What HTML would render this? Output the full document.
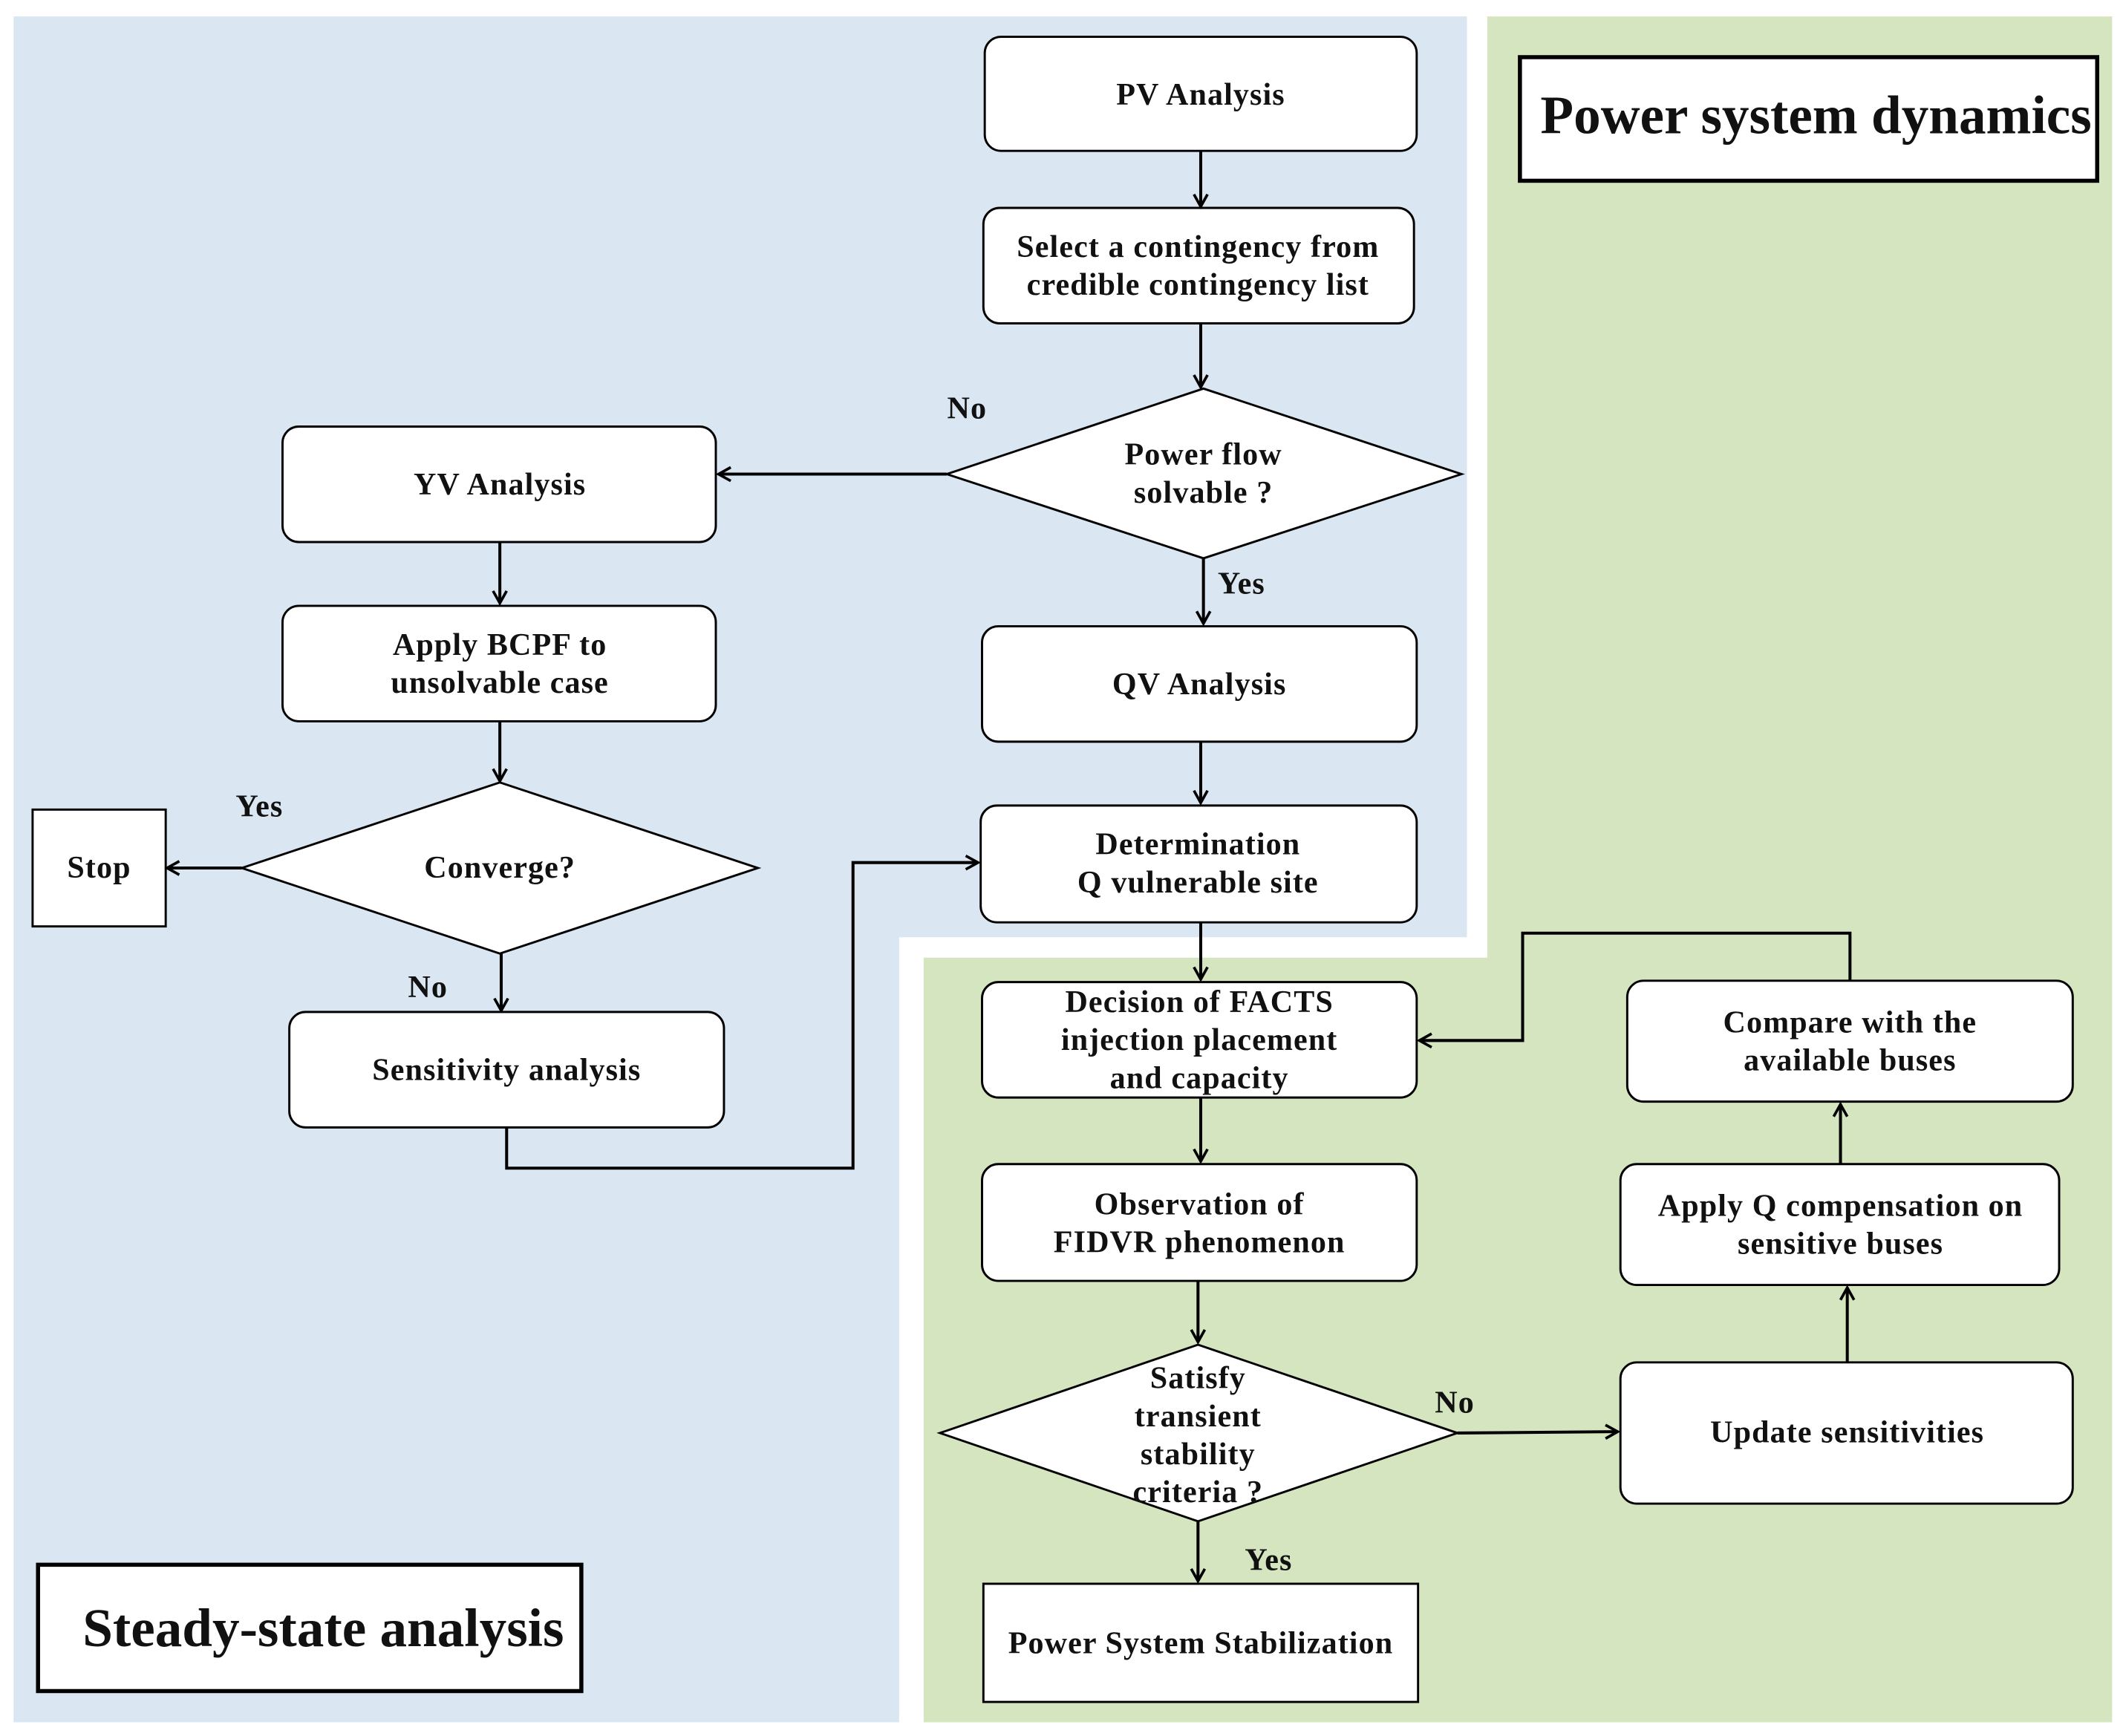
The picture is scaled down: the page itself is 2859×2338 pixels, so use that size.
<!DOCTYPE html>
<html><head><meta charset="utf-8"><style>
html,body{margin:0;padding:0;background:#fff;}
svg{display:block;}
text{font-family:"Liberation Serif",serif;font-weight:bold;fill:#111;}
</style></head><body>
<svg width="2859" height="2338" viewBox="0 0 1563 1278" xmlns="http://www.w3.org/2000/svg">
<defs>
<marker id="a" markerWidth="12" markerHeight="12" refX="10" refY="6" orient="auto" markerUnits="userSpaceOnUse">
<path d="M1,1 L10,6 L1,11" fill="none" stroke="#000" stroke-width="2"/>
</marker>
</defs>
<rect width="1563" height="1278" fill="#fff"/>
<polygon points="10,12 1080,12 1080,690 662,690 662,1268 10,1268" fill="#dae6f2"/>
<polygon points="1095,12 1555,12 1555,1268 680,1268 680,705 1095,705" fill="#d5e5bf"/>

<g fill="#fff" stroke="#000" stroke-width="1.6">
<rect x="725" y="27" width="318" height="84" rx="12"/>
<rect x="724" y="153" width="317" height="85" rx="12"/>
<polygon points="697,349 886,286 1076,349 886,411"/>
<rect x="208" y="314" width="319" height="85" rx="12"/>
<rect x="208" y="446" width="319" height="85" rx="12"/>
<polygon points="178,639 368,576 558,639 368,702"/>
<rect x="24" y="596" width="98" height="86"/>
<rect x="213" y="745" width="320" height="85" rx="12"/>
<rect x="723" y="461" width="320" height="85" rx="12"/>
<rect x="722" y="593" width="321" height="86" rx="12"/>
<rect x="723" y="723" width="320" height="85" rx="12"/>
<rect x="723" y="857" width="320" height="86" rx="12"/>
<polygon points="692,1055 882,990 1073,1055 882,1120"/>
<rect x="724" y="1166" width="320" height="87"/>
<rect x="1193" y="1003" width="333" height="104" rx="12"/>
<rect x="1193" y="857" width="323" height="89" rx="12"/>
<rect x="1198" y="722" width="328" height="89" rx="12"/>
</g>
<rect x="1119" y="42" width="425" height="91" fill="#fff" stroke="#000" stroke-width="3"/>
<rect x="28" y="1152" width="400" height="93" fill="#fff" stroke="#000" stroke-width="3"/>

<g fill="none" stroke="#000" stroke-width="2.2" marker-end="url(#a)">
<line x1="884" y1="111" x2="884" y2="152"/>
<line x1="884" y1="238" x2="884" y2="285"/>
<line x1="697" y1="349" x2="529" y2="349"/>
<line x1="886" y1="411" x2="886" y2="459"/>
<line x1="368" y1="399" x2="368" y2="444"/>
<line x1="368" y1="531" x2="368" y2="575"/>
<line x1="178" y1="639" x2="123" y2="639"/>
<line x1="369" y1="702" x2="369" y2="744"/>
<polyline points="373,830 373,860 628,860 628,635 720,635"/>
<line x1="884" y1="546" x2="884" y2="591"/>
<line x1="884" y1="679" x2="884" y2="721"/>
<line x1="884" y1="808" x2="884" y2="855"/>
<line x1="882" y1="943" x2="882" y2="988"/>
<line x1="882" y1="1120" x2="882" y2="1164"/>
<line x1="1073" y1="1055" x2="1191" y2="1054"/>
<line x1="1360" y1="1003" x2="1360" y2="948"/>
<line x1="1355" y1="857" x2="1355" y2="813"/>
<polyline points="1362,722 1362,687 1121,687 1121,766 1045,766"/>
</g>

<g font-size="23" text-anchor="middle" letter-spacing="0.6">
<text x="884" y="77">PV Analysis</text>
<text x="882" y="189">Select a contingency from</text>
<text x="882" y="217">credible contingency list</text>
<text x="886" y="342">Power flow</text>
<text x="886" y="370">solvable ?</text>
<text x="368" y="364">YV Analysis</text>
<text x="368" y="482">Apply  BCPF to</text>
<text x="368" y="510">unsolvable case</text>
<text x="368" y="646">Converge?</text>
<text x="73" y="646">Stop</text>
<text x="373" y="795">Sensitivity analysis</text>
<text x="883" y="511">QV Analysis</text>
<text x="882" y="629">Determination</text>
<text x="882" y="657">Q vulnerable site</text>
<text x="883" y="745">Decision of FACTS</text>
<text x="883" y="773">injection placement</text>
<text x="883" y="801">and capacity</text>
<text x="883" y="894">Observation of</text>
<text x="883" y="922">FIDVR phenomenon</text>
<text x="882" y="1022">Satisfy</text>
<text x="882" y="1050">transient</text>
<text x="882" y="1078">stability</text>
<text x="882" y="1106">criteria ?</text>
<text x="884" y="1217">Power System Stabilization</text>
<text x="1360" y="1062">Update sensitivities</text>
<text x="1355" y="895">Apply Q compensation on</text>
<text x="1355" y="923">sensitive buses</text>
<text x="1362" y="760">Compare with the</text>
<text x="1362" y="788">available buses</text>
<text x="712" y="308">No</text>
<text x="914" y="437">Yes</text>
<text x="191" y="601">Yes</text>
<text x="315" y="734">No</text>
<text x="1071" y="1040">No</text>
<text x="934" y="1156">Yes</text>
</g>
<text x="1337" y="98" font-size="40" text-anchor="middle">Power system dynamics</text>
<text x="238" y="1212" font-size="40" text-anchor="middle">Steady-state analysis</text>
</svg>
</body></html>
